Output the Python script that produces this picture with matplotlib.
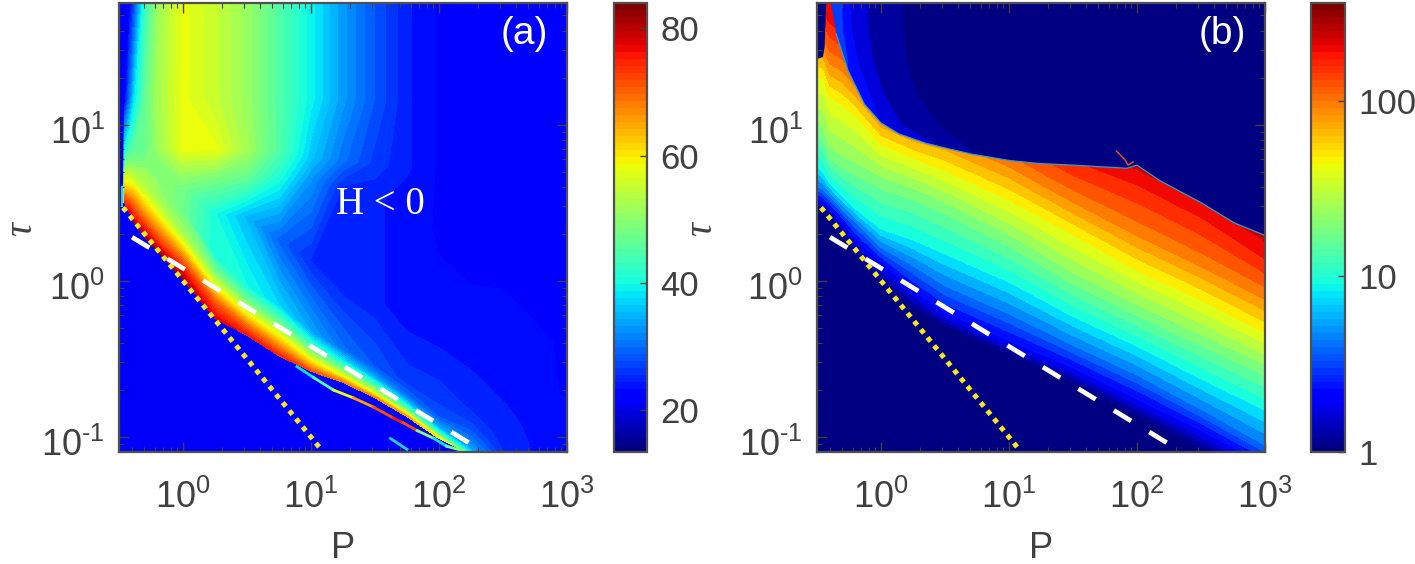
import numpy as np
import matplotlib
matplotlib.use('Agg')
import matplotlib.pyplot as plt
from matplotlib.cm import ScalarMappable
from matplotlib.colors import Normalize, LogNorm
from matplotlib.patches import Polygon
from matplotlib.scale import InvertedLogTransform
from matplotlib.transforms import blended_transform_factory, ScaledTranslation

plt.rcParams['font.family'] = ['Liberation Sans', 'DejaVu Sans']
plt.rcParams['mathtext.fontset'] = 'custom'
plt.rcParams['mathtext.rm'] = 'Liberation Sans'
plt.rcParams['mathtext.default'] = 'regular'

# panel (a): values read along each column, log10(P) -> log10(tau) nodes from the lower edge up
logp_a = [-.47, -.455, -.42, -.38, -.3, -.2, 0, .25, .5, .75, 1, 1.25, 1.5, 1.75, 2, 2.25, 2.5, 3]
logtau_a = [
    [.50, .54, .58, .64, .69, .72, .75, .84, 1.16, 1.8],
    [.50, .54, .58, .64, .69, .72, .75, .84, 1.16, 1.8],
    [.44, .50, .55, .61, .67, .71, .75, .84, 1.16, 1.8],
    [.37, .42, .50, .57, .63, .70, .75, .84, 1.16, 1.8],
    [.28, .35, .43, .52, .59, .68, .75, .84, 1.16, 1.8],
    [.19, .25, .34, .43, .53, .64, .75, .84, 1.16, 1.8],
    [.01, .09, .20, .30, .45, .60, .73, .84, 1.16, 1.8],
    [-.24, -.13, -.05, .04, .16, .43, .67, .84, 1.16, 1.8],
    [-.35, -.28, -.21, -.13, -.04, .41, .67, .84, 1.16, 1.8],
    [-.48, -.41, -.33, -.26, -.16, .26, .67, .84, 1.16, 1.8],
    [-.58, -.54, -.48, -.42, -.33, .13, .67, .79, 1.16, 1.8],
    [-.65, -.61, -.57, -.51, -.44, -.01, .60, .77, 1.16, 1.8],
    [-.75, -.72, -.67, -.62, -.55, -.12, .52, .75, 1.16, 1.8],
    [-.87, -.83, -.79, -.74, -.65, -.23, .52, .73, 1.16, 1.8],
    [-1.01, -.98, -.94, -.87, -.76, -.33, .30, .73, 1.16, 1.8],
    [-1.11, -1.08, -1.01, -.93, -.82, -.44, .09, .73, 1.16, 1.8],
    [-1.19, -1.14, -1.08, -.97, -.87, -.55, .09, .52, 1.16, 1.8],
    [-1.19, -1.14, -1.08, -.87, -.72, -.33, .30, .73, 1.16, 1.8],
]
h_a = [
    [21, 21, 21, 21, 21, 21, 21, 21, 21, 21],
    [74, 70, 64, 58, 54, 50, 46, 40, 22, 21],
    [78, 72, 66, 60, 56, 53, 50, 44, 30, 21],
    [80, 74, 68, 62, 56, 52, 49, 46, 38, 27],
    [82, 74, 66, 59, 54, 52, 49, 47, 46, 42],
    [82, 74, 66, 58, 52, 50, 49, 51, 52, 51],
    [81, 74, 62, 52, 47, 48, 53, 58, 58, 58],
    [78, 70, 60, 50, 40, 40, 49, 58, 55, 55],
    [76, 68, 58, 48, 40, 35, 47, 52, 51, 51],
    [75, 66, 56, 46, 37, 29, 41, 45, 45, 45],
    [72, 64, 54, 44, 34, 25, 33, 36, 39, 39],
    [68, 58, 48, 38, 30, 24, 25, 30, 33, 33],
    [68, 56, 44, 34, 28, 24, 24, 26, 28, 28],
    [66, 48, 38, 30, 26, 23, 23, 24, 24, 24],
    [60, 44, 34, 28, 26, 23, 22, 22, 22, 22],
    [40, 34, 30, 27, 25, 23, 22, 21, 21, 21],
    [26, 26, 25, 24, 24, 23, 22, 21, 21, 21],
    [21, 21, 22, 23, 22, 22, 22, 21, 21, 21],
]
# scattered streak under the ridge of panel (a)
streak_logp = [.89, 1.02, 1.175, 1.33, 1.49, 1.645, 1.72, 1.83, 1.96, 2.06, 2.19]
streak_logtau = [-.55, -.62, -.70, -.75, -.81, -.88, -.91, -.96, -1.01, -1.06, -1.09]
streak_h = [38, 45, 58, 66, 72, 76, 72, 50, 38, 48, 38]

# panel (b): log10(tau) of the level curves, one row per H level
logp_b = [-.5, -.45, -.4, -.3, -.2, 0, .25, .5, 1, 1.5, 2, 2.5, 3]
h_levels_b = [1.02, 1.9, 4, 8.3, 19, 44, 100, 187, 360]
logtau_b = [
    [.47, .46, .43, .30, .18, -.01, -.17, -.29, -.47, -.65, -.86, -1.07, -1.29],
    [.52, .50, .46, .37, .26, .11, -.07, -.22, -.40, -.57, -.77, -.97, -1.19],
    [.60, .58, .54, .45, .37, .21, .09, -.04, -.22, -.42, -.61, -.83, -1.06],
    [.73, .69, .62, .54, .46, .33, .26, .17, -.01, -.23, -.42, -.63, -.83],
    [.99, .92, .81, .75, .71, .63, .56, .47, .26, .01, -.19, -.38, -.57],
    [1.30, 1.30, 1.18, 1.13, 1.06, .88, .79, .71, .52, .30, .07, -.12, -.33],
    [1.58, 1.52, 1.43, 1.38, 1.28, 1.07, .98, .94, .77, .54, .33, .13, -.08],
    [1.79, 1.73, 1.67, 1.60, 1.52, 1.26, 1.2, 1.16, .99, .79, .64, .43, .16],
    [2.1, 2.1, 2.1, 2.1, 2.0, 1.9, 1.8, 1.6, 1.3, 1.05, .9, .7, .5],
]
# upper limit of the H > 0 sheet in panel (b)
edge_logp_b = [-.5, -.454, -.44, -.428, -.39, -.35, -.26, -.13, 0, .14, .35, .5, .71, 1, 1.24, 1.5,
               1.92, 2, 2.18, 2.5, 2.76, 3]
edge_logtau_b = [1.42, 1.43, 1.50, 1.78, 1.78, 1.58, 1.35, 1.13, 1.01, .94, .88, .85, .81, .77, .75, .74,
                 .72, .74, .64, .50, .37, .29]
spur_logp_b = [1.84, 1.91, 1.93, 1.97]
spur_logtau_b = [.83, .77, .74, .76]

# blue tail above the edge in panel (b)
tail_logtau = [1.8, 1.6, 1.4, 1.2, 1.0, .85, .78]
tail_levels = [1.2, 1.6, 2.2, 3]
tail_logp = [
    [.16, .18, .20, .28, .45, .69, .90],
    [-.11, -.10, -.06, .02, .16, .48, .48],
    [-.24, -.23, -.18, -.09, .0, .0, .0],
    [-.31, -.30, -.26, -.26, -.26, -.26, -.26],
]

# guide lines
dot_p = [.34, 12.3]
dot_tau = [2.94, .081]
dash_p = [.40, 190]
dash_tau = [1.9, .087]

xticks = [1, 10, 100, 1000]
xlabels = ['$10^{0}$', '$10^{1}$', '$10^{2}$', '$10^{3}$']
yticks = [.1, 1, 10]
ylabels = ['$10^{\u20101}$', '$10^{0}$', '$10^{1}$']

GRAY = '#404040'
W, H = 1415, 564
XLIM = (10 ** -.5, 1000)
YLIM = (.08, 60)
FS = 26


def box(l, r, t=3, b=452):
    return [l / W, (H - b) / H, (r - l) / W, (b - t) / H]


def style_axes(ax):
    ax.set_xscale('log')
    ax.set_yscale('log')
    ax.set_xlim(XLIM)
    ax.set_ylim(YLIM)
    ax.set_xticks(xticks, xlabels)
    ax.set_yticks(yticks, ylabels)
    ax.tick_params(which='major', direction='in', top=True, right=True, length=7, width=1, color=GRAY,
                   labelcolor=GRAY, labelsize=FS)
    ax.tick_params(which='minor', direction='in', top=True, right=True, length=3.5, width=.8, color=GRAY)
    ax.tick_params(axis='x', which='major', pad=20)
    ax.tick_params(axis='y', which='major', pad=10)
    ax.set_xlabel('P', fontsize=FS, color=GRAY, labelpad=11)
    # the reference sits the tick labels a little under their ticks
    shift = ScaledTranslation(0, -5 / 100, ax.figure.dpi_scale_trans)
    for lab in ax.get_yticklabels():
        lab.set_transform(lab.get_transform() + shift)
    for s in ax.spines.values():
        s.set_color('#505050')
        s.set_linewidth(1.6)
        s.set_zorder(10)


def draw_guides(ax):
    ax.plot(dot_p, dot_tau, color='#f7e81c', lw=3.6, ls=(0, (1, 1.1)), dash_capstyle='butt', zorder=5)
    ax.plot(dash_p, dash_tau, color='white', lw=3.4, ls=(0, (4.3, 4.5)), dash_capstyle='butt', zorder=6)


def log_data_transform(ax):
    inv = InvertedLogTransform(10)
    return blended_transform_factory(inv, inv) + ax.transData


def add_colorbar(fig, norm, cmap, pos, ticks, labels):
    cax = fig.add_axes(pos)
    cb = fig.colorbar(ScalarMappable(norm=norm, cmap=cmap), cax=cax)
    cb.set_ticks(ticks, labels=labels)
    cb.ax.minorticks_off()
    cb.ax.tick_params(direction='in', length=5, width=1, color=GRAY, labelcolor=GRAY, labelsize=25, pad=9.5)
    cb.outline.set_edgecolor('#505050')
    cb.outline.set_linewidth(1.6)


def panel_a(fig):
    ax = fig.add_axes(box(119, 567))
    norm = Normalize(13.4, 84)
    cmap = plt.get_cmap('jet', 64)
    ax.set_facecolor(plt.get_cmap('jet')(norm(21)))
    style_axes(ax)
    X = np.tile(np.array(logp_a)[:, None], (1, len(logtau_a[0])))
    ax.contourf(X, np.array(logtau_a), np.array(h_a), levels=np.linspace(13.4, 84, 49), cmap='jet', norm=norm,
                transform=log_data_transform(ax))
    ax.set_xlim(XLIM)
    ax.set_ylim(YLIM)
    # streak under the ridge
    for i in range(len(streak_h) - 1):
        ax.plot(10 ** np.array(streak_logp[i:i + 2]), 10 ** np.array(streak_logtau[i:i + 2]), lw=2,
                color=plt.get_cmap('jet')(norm(streak_h[i])), zorder=3)
    ax.plot([10 ** 1.62, 10 ** 1.75], [10 ** -1.01, 10 ** -1.08], lw=2, color='#20d0e0', zorder=3)
    ax.plot([10 ** -.475, 10 ** -.475], [10 ** .48, 10 ** .60], lw=1.5, color='#30c8e0', zorder=3)
    ax.plot([10 ** -.48, 10 ** -.48], [10 ** .62, 10 ** .90], lw=1.5, color='#0000a0', zorder=3)
    draw_guides(ax)
    ax.text(524, H - 34, '(a)', transform=None, color='white', fontsize=28, ha='center', va='center')
    ax.text(380, H - 204, 'H < 0', transform=None, color='white', fontsize=28, ha='center', va='center',
            family='Liberation Serif')
    fig.text(22 / W, 1 - 229 / H, 'τ', rotation=90, fontsize=28, color=GRAY, ha='center', va='center',
             family='Liberation Serif', style='italic')
    add_colorbar(fig, norm, cmap, box(614, 647), [20, 40, 60, 80], ['20', '40', '60', '80'])


def panel_b(fig):
    ax = fig.add_axes(box(817, 1265))
    vmax = np.log10(360)
    jet = plt.get_cmap('jet')
    ax.set_facecolor(jet(0.0))
    style_axes(ax)
    for lev, row in zip(tail_levels, tail_logp):
        ax.fill_betweenx(10 ** np.array(tail_logtau), 10 ** -.39, 10 ** np.array(row),
                         color=jet(np.log10(lev) / vmax), lw=0, zorder=1)
    X = np.tile(np.array(logp_b), (len(h_levels_b), 1))
    Z = np.tile(np.log10(h_levels_b)[:, None], (1, len(logp_b)))
    cs = ax.contourf(X, np.array(logtau_b), Z, levels=np.linspace(0, vmax, 26), cmap='jet', vmin=0, vmax=vmax,
                     transform=log_data_transform(ax), zorder=2)
    ax.set_xlim(XLIM)
    ax.set_ylim(YLIM)
    verts = [(10 ** a, 10 ** b) for a, b in zip(edge_logp_b, edge_logtau_b)]
    verts += [(1000, .08), (XLIM[0], .08)]
    cs.set_clip_path(Polygon(verts, closed=True, transform=ax.transData))
    ax.plot(10 ** np.array(edge_logp_b[5:]), 10 ** np.array(edge_logtau_b[5:]), color='#30a0c8', lw=.9, zorder=3)
    ax.plot(10 ** np.array(spur_logp_b), 10 ** np.array(spur_logtau_b), color='#e05030', lw=1.1, zorder=3)
    draw_guides(ax)
    ax.text(1222, H - 34, '(b)', transform=None, color='white', fontsize=28, ha='center', va='center')
    fig.text(702 / W, 1 - 229 / H, 'τ', rotation=90, fontsize=28, color=GRAY, ha='center', va='center',
             family='Liberation Serif', style='italic')
    add_colorbar(fig, LogNorm(1, 360), plt.get_cmap('jet', 64), box(1311, 1345), [1, 10, 100], ['1', '10', '100'])


if __name__ == '__main__':
    fig = plt.figure(figsize=(W / 100, H / 100), dpi=100)
    panel_a(fig)
    panel_b(fig)
    fig.savefig('out.png', dpi=100)
